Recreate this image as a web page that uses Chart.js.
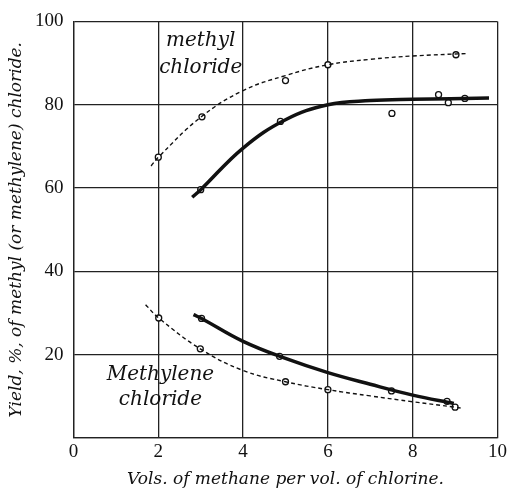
<!DOCTYPE html>
<html>
<head>
<meta charset="utf-8">
<script src="https://cdn.jsdelivr.net/npm/chart.js@4/dist/chart.umd.min.js"></script>
<style>
  html, body { margin: 0; padding: 0; background: #fff; }
  #wrap { width: 510px; height: 492px; }
</style>
</head>
<body>
<div id="wrap"><canvas id="chart"></canvas></div>
<script>
// ===== DATA =====

// methyl chloride, dashed curve + observed points
const methylDashX = [1.83, 2, 3, 4, 5, 6, 7, 8, 9.3];
const methylDashY = [65.3, 67.4, 77, 83.4, 87, 89.6, 90.9, 91.7, 92.3];
const methylDashPtX = [2, 3.03, 5, 6, 9.02];
const methylDashPtY = [67.4, 77.1, 85.8, 89.6, 92];

// methyl chloride, solid curve + observed points
const methylSolidX = [2.8, 3, 4, 5, 6, 7, 8, 9.8];
const methylSolidY = [57.8, 59.6, 69.6, 76.4, 80, 81, 81.3, 81.6];
const methylSolidPtX = [3, 4.88, 7.51, 8.61, 8.84, 9.23];
const methylSolidPtY = [59.6, 76, 77.9, 82.4, 80.5, 81.5];

// methylene chloride, solid curve + observed points
const methyleneSolidX = [2.83, 3.02, 4, 5, 6, 7, 8, 8.97];
const methyleneSolidY = [29.6, 28.7, 23.2, 19.1, 15.7, 12.9, 10.3, 8.3];
const methyleneSolidPtX = [3.02, 4.86, 7.5, 8.81];
const methyleneSolidPtY = [28.7, 19.6, 11.3, 8.8];

// methylene chloride, dashed curve + observed points
const methyleneDashX = [1.7, 2.01, 2.99, 4, 5, 6, 7, 8, 9, 9.13];
const methyleneDashY = [32, 28.8, 21.4, 16.2, 13.5, 11.6, 10.1, 8.7, 7.4, 7.2];
const methyleneDashPtX = [2.01, 2.99, 5, 6, 9];
const methyleneDashPtY = [28.8, 21.4, 13.5, 11.6, 7.4];

const xTicks = [0, 2, 4, 6, 8, 10];
const yTicks = [0, 20, 40, 60, 80, 100];

// hand-written curve labels
const noteText = ["methyl", "chloride", "Methylene", "chloride"];
const noteX = [3.0, 3.0, 2.05, 2.05];
const noteY = [94.2, 87.6, 14.0, 8.0];

// ===== HELPERS =====

function pts(xs, ys) {
    return xs.map((x, i) => ({ x: x, y: ys[i] }));
}

function curve(xs, ys, width, dash) {
    return {
        data: pts(xs, ys),
        showLine: true,
        borderColor: "#111",
        borderWidth: width,
        borderDash: dash,
        tension: 0.4,
        pointRadius: 0,
        pointHoverRadius: 0
    };
}

function marks(xs, ys) {
    return {
        data: pts(xs, ys),
        showLine: false,
        pointStyle: "circle",
        pointRadius: 3,
        pointBackgroundColor: "#fff",
        pointBorderColor: "#111",
        pointBorderWidth: 1.3
    };
}

const notesPlugin = {
    id: "notes",
    afterDatasetsDraw(chart) {
        const ctx = chart.ctx;
        const xs = chart.scales.x, ys = chart.scales.y;
        ctx.save();
        ctx.fillStyle = "#111";
        ctx.font = "italic 20px 'DejaVu Serif'";
        ctx.textAlign = "center";
        ctx.textBaseline = "alphabetic";
        noteText.forEach((t, i) => {
            ctx.fillText(t, xs.getPixelForValue(noteX[i]), ys.getPixelForValue(noteY[i]));
        });
        ctx.restore();
    }
};

// ===== CHART =====

const tickFont = { family: "'Liberation Serif'", size: 19 };
const titleFont = { family: "'DejaVu Serif'", size: 17, style: "italic" };

new Chart(document.getElementById("chart"), {
    type: "scatter",
    data: {
        datasets: [
            curve(methylDashX, methylDashY, 1.4, [4, 3]),
            curve(methylSolidX, methylSolidY, 3.5, []),
            curve(methyleneSolidX, methyleneSolidY, 3.5, []),
            curve(methyleneDashX, methyleneDashY, 1.4, [4, 3]),
            marks(methylDashPtX, methylDashPtY),
            marks(methylSolidPtX, methylSolidPtY),
            marks(methyleneSolidPtX, methyleneSolidPtY),
            marks(methyleneDashPtX, methyleneDashPtY)
        ]
    },
    options: {
        responsive: true,
        maintainAspectRatio: false,
        animation: false,
        layout: { padding: { left: 0, right: 10, top: 15, bottom: 0 } },
        plugins: {
            legend: { display: false },
            tooltip: { enabled: false }
        },
        scales: {
            x: {
                type: "linear",
                min: 0,
                max: 10,
                afterBuildTicks: (s) => { s.ticks = xTicks.map(v => ({ value: v })); },
                ticks: { color: "#111", font: tickFont, padding: 3, maxRotation: 0 },
                grid: { color: "#222", lineWidth: 1.3, drawTicks: false },
                border: { color: "#222", width: 1.3 },
                title: {
                    display: true,
                    text: "Vols. of methane per vol. of chlorine.",
                    color: "#111",
                    font: titleFont,
                    padding: { top: 0, bottom: 2 }
                },
                afterFit: (s) => { s.height = 54; }
            },
            y: {
                min: 0,
                max: 100,
                afterBuildTicks: (s) => { s.ticks = yTicks.map(v => ({ value: v })); },
                ticks: {
                    color: "#111",
                    font: tickFont,
                    padding: 10,
                    callback: (v) => v === 0 ? "" : v
                },
                grid: { color: "#222", lineWidth: 1.3, drawTicks: false },
                border: { color: "#222", width: 1.3 },
                title: {
                    display: true,
                    text: "Yield, %, of methyl (or methylene) chloride.",
                    color: "#111",
                    font: titleFont,
                    padding: { top: 6, bottom: 0 }
                },
                afterFit: (s) => { s.width = 73.5; }
            }
        }
    },
    plugins: [notesPlugin]
});
</script>
</body>
</html>
